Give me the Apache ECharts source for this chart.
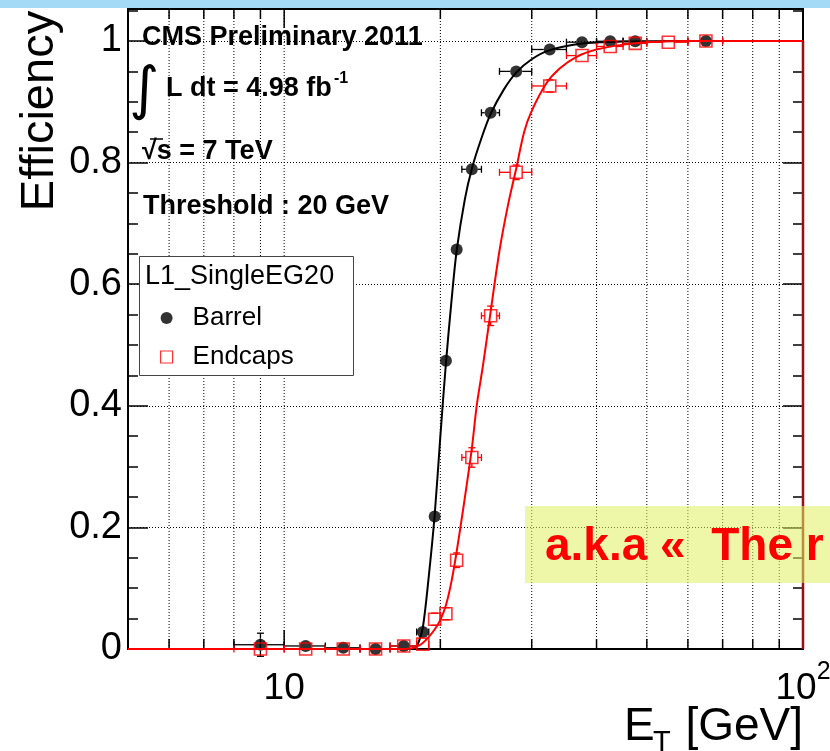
<!DOCTYPE html>
<html>
<head>
<meta charset="utf-8">
<script src="https://cdn.jsdelivr.net/npm/echarts@6/dist/echarts.min.js"></script>
<style>
  html, body { margin: 0; padding: 0; background: #fff; }
  #chart { width: 830px; height: 751px; }
</style>
</head>
<body>
<div id="chart"></div>
<script>
const FONT = '"Liberation Sans", Arial, Helvetica, sans-serif';

// axis ranges
const xMin = 5;
const xMax = 100;
const yMin = 0;
const yMax = 1.0526;
const xTickValues = [6, 7, 8, 9, 10, 20, 30, 40, 50, 60, 70, 80, 90];

// barrel points (bin centres, efficiency, bin edges, vertical error)
const barrelEt = [9, 11, 13, 15, 17, 18.5, 19.5, 20.5, 21.5, 23, 25, 28, 32.5, 37.5, 42.5, 47.5, 65];
const barrelEff = [0.007, 0.005, 0.002, 0.0, 0.005, 0.028, 0.218, 0.474, 0.657, 0.789, 0.882, 0.950, 0.986, 0.998, 0.9995, 0.9995, 1.0];
const barrelBinLo = [8, 10, 12, 14, 16, 18, 19, 20, 21, 22, 24, 26, 30, 35, 40, 45, 60];
const barrelBinHi = [10, 12, 14, 16, 18, 19, 20, 21, 22, 24, 26, 30, 35, 40, 45, 50, 70];
const barrelErr = [0.019, 0.008, 0.006, 0.004, 0.005, 0.006, 0.008, 0.008, 0.008, 0.007, 0.005, 0.004, 0.002, 0.001, 0.001, 0.001, 0.001];

// endcap points
const endcapEt = [9, 11, 13, 15, 17, 18.5, 19.5, 20.5, 21.5, 23, 25, 28, 32.5, 37.5, 42.5, 47.5, 55, 65];
const endcapEff = [0.0, 0.0, 0.0, 0.0, 0.005, 0.008, 0.049, 0.058, 0.146, 0.315, 0.548, 0.784, 0.926, 0.976, 0.991, 0.996, 0.998, 1.0];
const endcapBinLo = [8, 10, 12, 14, 16, 18, 19, 20, 21, 22, 24, 26, 30, 35, 40, 45, 50, 60];
const endcapBinHi = [10, 12, 14, 16, 18, 19, 20, 21, 22, 24, 26, 30, 35, 40, 45, 50, 60, 70];
const endcapErr = [0.005, 0.004, 0.003, 0.003, 0.004, 0.005, 0.01, 0.01, 0.012, 0.016, 0.016, 0.012, 0.01, 0.006, 0.004, 0.003, 0.003, 0.002];

// fitted turn-on curves
const barrelFitEt = [5, 17, 17.8, 18.1, 18.5, 19.0, 19.5, 20.0, 20.5, 21.0, 21.5, 22.3, 23.0, 24.0, 25.0, 26.5, 28.0, 30.0, 32.5, 37.5, 45, 60, 100];
const barrelFitEff = [0, 0, 0.001, 0.008, 0.035, 0.12, 0.22, 0.35, 0.47, 0.57, 0.655, 0.74, 0.79, 0.84, 0.88, 0.92, 0.948, 0.97, 0.985, 0.996, 0.999, 1, 1];
const endcapFitEt = [5, 16.5, 17.5, 18.0, 18.5, 19.0, 19.5, 20.0, 20.5, 21.0, 21.5, 22.2, 23.0, 23.5, 24.2, 25.0, 26.0, 27.0, 28.0, 29.0, 30.0, 32.0, 34.0, 36.6, 40, 45, 50, 60, 100];
const endcapFitEff = [0, 0, 0.001, 0.004, 0.01, 0.02, 0.032, 0.048, 0.072, 0.11, 0.16, 0.238, 0.33, 0.40, 0.47, 0.555, 0.655, 0.73, 0.79, 0.85, 0.885, 0.93, 0.955, 0.974, 0.986, 0.994, 0.998, 1, 1];

const zip = (a, b) => a.map((v, i) => [v, b[i]]);
const errRows = (x, y, lo, hi, e) => x.map((v, i) => [v, y[i], lo[i], hi[i], y[i] - e[i], y[i] + e[i]]);

// ROOT-style error bars: drawn only outside the marker, with end caps
function errorBarItem(color, half) {
  return function (params, api) {
    const x = api.value(0), y = api.value(1);
    const p = api.coord([x, y]);
    const l = api.coord([api.value(2), y]);
    const r = api.coord([api.value(3), y]);
    const b = api.coord([x, api.value(4)]);
    const t = api.coord([x, api.value(5)]);
    const st = { stroke: color, lineWidth: 1.3 };
    const cap = 3.5;
    const kids = [];
    const seg = (x1, y1, x2, y2) => kids.push({ type: 'line', shape: { x1, y1, x2, y2 }, style: st });
    if (l[0] < p[0] - half) { seg(l[0], p[1], p[0] - half, p[1]); seg(l[0], p[1] - cap, l[0], p[1] + cap); }
    if (r[0] > p[0] + half) { seg(p[0] + half, p[1], r[0], p[1]); seg(r[0], p[1] - cap, r[0], p[1] + cap); }
    if (t[1] < p[1] - half) { seg(p[0], t[1], p[0], p[1] - half); seg(p[0] - cap, t[1], p[0] + cap, t[1]); }
    if (b[1] > p[1] + half) { seg(p[0], p[1] + half, p[0], b[1]); seg(p[0] - cap, b[1], p[0] + cap, b[1]); }
    return { type: 'group', children: kids };
  };
}

function xTickItem(params, api) {
  const cs = params.coordSys;
  const v = api.value(0);
  const x = api.coord([v, yMin])[0];
  const bottom = cs.y + cs.height;
  const top = cs.y;
  const len = Math.abs(v - 10) < 1e-9 ? 19 : 10;
  return {
    type: 'group',
    children: [
      { type: 'line', shape: { x1: x, y1: top, x2: x, y2: bottom }, style: { stroke: '#000', lineWidth: 1, lineDash: [1, 2] } },
      { type: 'line', shape: { x1: x, y1: bottom, x2: x, y2: bottom - len }, style: { stroke: '#000', lineWidth: 1.5 } },
      { type: 'line', shape: { x1: x, y1: top, x2: x, y2: top + len }, style: { stroke: '#000', lineWidth: 1.5 } }
    ]
  };
}

const chart = echarts.init(document.getElementById('chart'), null, { renderer: 'canvas' });

const yLabel = v => {
  const r = Math.round(v * 5) / 5;
  return Math.abs(v - r) < 1e-6 ? String(+r.toFixed(1)) : '';
};

const boldText = (x, y, text, size) => ({
  type: 'text', z: 10, x, y,
  style: { text, fontFamily: FONT, fontWeight: 'bold', fontSize: size || 27, fill: '#000', align: 'left', verticalAlign: 'middle' }
});

const option = {
  animation: false,
  backgroundColor: '#fff',
  textStyle: { fontFamily: FONT },
  grid: {
    left: 128, right: 27, top: 9, bottom: 102,
    show: true, borderColor: '#000', borderWidth: 2, backgroundColor: 'transparent',
    outerBoundsMode: 'none', containLabel: false
  },
  xAxis: {
    type: 'log', logBase: 10, min: xMin, max: xMax,
    axisLine: { show: false }, axisTick: { show: false }, splitLine: { show: false },
    axisLabel: {
      margin: 11, color: '#000', fontFamily: FONT, fontSize: 37, verticalAlign: 'top',
      showMinLabel: false, showMaxLabel: true, hideOverlap: false,
      formatter: v => {
        const e = Math.round(Math.log10(v) * 1000) / 1000;
        if (e === 1) return '{n|10}';
        if (e === 2) return '{n|10}{s|2}';
        return '';
      },
      rich: {
        n: { fontSize: 37, fontFamily: FONT, color: '#000', padding: [10, 0, 0, 0], verticalAlign: 'bottom' },
        s: { fontSize: 25, fontFamily: FONT, color: '#000', verticalAlign: 'top' }
      }
    }
  },
  yAxis: [
    {
      type: 'value', min: yMin, max: yMax, interval: 0.2, position: 'left',
      axisLine: { show: false },
      axisTick: { show: true, inside: true, length: 20, lineStyle: { color: '#000', width: 1.5 } },
      minorTick: { show: true, splitNumber: 4, length: 10, lineStyle: { color: '#000', width: 1.5 } },
      splitLine: { show: true, lineStyle: { color: '#000', width: 1, type: [1, 2] } },
      axisLabel: { margin: 6, color: '#000', fontFamily: FONT, fontSize: 38, formatter: yLabel, showMaxLabel: false }
    },
    {
      type: 'value', min: yMin, max: yMax, interval: 0.2, position: 'right',
      axisLine: { show: false },
      axisTick: { show: true, inside: true, length: 20, lineStyle: { color: '#000', width: 1.5 } },
      minorTick: { show: true, splitNumber: 4, length: 10, lineStyle: { color: '#000', width: 1.5 } },
      splitLine: { show: false },
      axisLabel: { show: false }
    }
  ],
  legend: {
    left: 155, top: 300, orient: 'vertical', itemGap: 13,
    itemWidth: 12, itemHeight: 12, selectedMode: false,
    textStyle: { fontFamily: FONT, fontSize: 26, color: '#000', lineHeight: 26, padding: [0, 0, 0, 15] },
    data: [
      { name: 'Barrel', icon: 'circle', itemStyle: { color: '#000' } },
      { name: 'Endcaps', icon: 'rect', itemStyle: { color: '#fff', borderColor: '#ff0000', borderWidth: 1.2 } }
    ],
    z: 6
  },
  graphic: [
    { type: 'rect', z: 0, shape: { x: 0, y: 0, width: 830, height: 8 }, style: { fill: '#a4daf5' } },
    {
      type: 'text', z: 10, x: 40, y: 111, rotation: Math.PI / 2,
      style: { text: 'Efficiency', fontFamily: FONT, fontSize: 47, fill: '#000', align: 'center', verticalAlign: 'middle' }
    },
    { type: 'text', z: 10, x: 624, y: 727, style: { text: 'E', fontFamily: FONT, fontSize: 46, fill: '#000', align: 'left', verticalAlign: 'middle' } },
    { type: 'text', z: 10, x: 653, y: 743, style: { text: 'T', fontFamily: FONT, fontSize: 29, fill: '#000', align: 'left', verticalAlign: 'middle' } },
    { type: 'text', z: 10, x: 803, y: 727, style: { text: '[GeV]', fontFamily: FONT, fontSize: 46, fill: '#000', align: 'right', verticalAlign: 'middle' } },
    boldText(142, 38, 'CMS Preliminary 2011'),
    { type: 'text', z: 10, x: 144, y: 93, style: { text: '\u222B', fontFamily: '"DejaVu Sans", sans-serif', fontSize: 58, fill: '#000', align: 'center', verticalAlign: 'middle' } },
    boldText(166, 89, 'L dt = 4.98 fb'),
    boldText(334, 79, '-1', 16),
    boldText(142, 152, '\u221As = 7 TeV'),
    { type: 'line', z: 10, shape: { x1: 150, y1: 139, x2: 163, y2: 139 }, style: { stroke: '#000', lineWidth: 1.5 } },
    boldText(143, 207, 'Threshold : 20 GeV'),
    { type: 'rect', z: 5, shape: { x: 139.5, y: 256.5, width: 214, height: 119 }, style: { fill: '#fff', stroke: '#444', lineWidth: 1 } },
    { type: 'text', z: 10, x: 145, y: 277, style: { text: 'L1_SingleEG20', fontFamily: FONT, fontSize: 27, fill: '#000', align: 'left', verticalAlign: 'middle' } },
    { type: 'rect', z: 20, shape: { x: 525, y: 506, width: 305, height: 77 }, style: { fill: 'rgba(222,240,95,0.55)' } },
    { type: 'text', z: 21, x: 545, y: 547, style: { text: 'a.k.a \u00AB  The r', fontFamily: FONT, fontWeight: 'bold', fontSize: 46, fill: '#ff0000', align: 'left', verticalAlign: 'middle' } }
  ],
  series: [
    {
      name: 'xticks', type: 'custom', z: 1, silent: true, clip: false,
      data: xTickValues.map(v => [v, yMin]),
      renderItem: xTickItem
    },
    {
      name: 'Barrel fit', type: 'line', data: zip(barrelFitEt, barrelFitEff),
      showSymbol: false, smooth: 0.3, lineStyle: { color: '#000', width: 2 }, z: 2
    },
    {
      name: 'Barrel errors', type: 'custom', z: 3, silent: true,
      data: errRows(barrelEt, barrelEff, barrelBinLo, barrelBinHi, barrelErr),
      encode: { x: 0, y: 1 },
      renderItem: errorBarItem('#000', 6)
    },
    {
      name: 'Barrel', type: 'scatter', data: zip(barrelEt, barrelEff),
      symbol: 'circle', symbolSize: 12, itemStyle: { color: '#000' }, z: 4, clip: false
    },
    {
      name: 'Endcaps fit', type: 'line', data: zip(endcapFitEt, endcapFitEff),
      showSymbol: false, smooth: 0.3, lineStyle: { color: '#ff0000', width: 2 }, z: 5
    },
    {
      name: 'Endcaps edge', type: 'line', data: [[xMax, 1], [xMax, yMin]],
      showSymbol: false, lineStyle: { color: '#9a1010', width: 2.5 }, z: 5
    },
    {
      name: 'Endcaps errors', type: 'custom', z: 5, silent: true,
      data: errRows(endcapEt, endcapEff, endcapBinLo, endcapBinHi, endcapErr),
      encode: { x: 0, y: 1 },
      renderItem: errorBarItem('#ff0000', 6)
    },
    {
      name: 'Endcaps', type: 'scatter', data: zip(endcapEt, endcapEff),
      symbol: 'rect', symbolSize: 12, clip: false,
      itemStyle: { color: 'rgba(255,255,255,0)', borderColor: '#ff0000', borderWidth: 1.6 }, z: 6
    }
  ]
};

chart.setOption(option);
window.addEventListener('resize', () => chart.resize());
</script>
</body>
</html>
